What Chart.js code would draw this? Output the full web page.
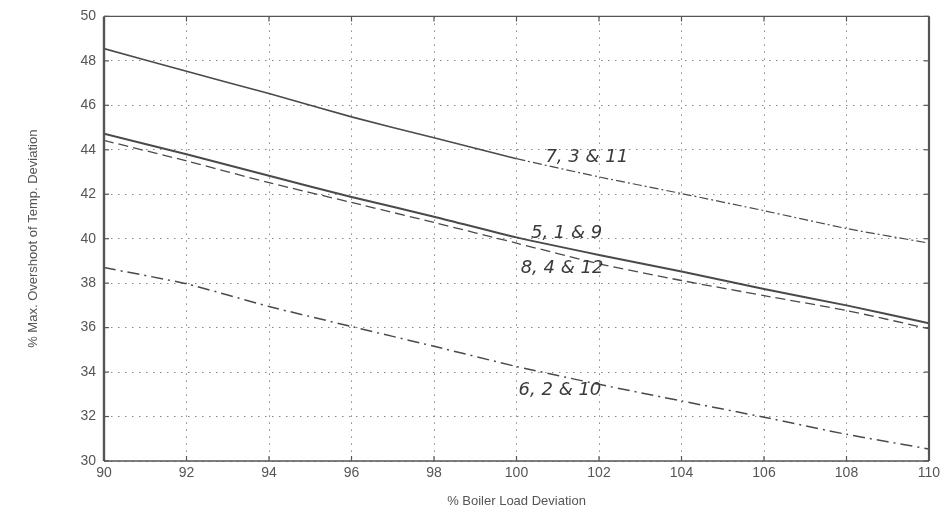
<!DOCTYPE html>
<html>
<head>
<meta charset="utf-8">
<script src="https://cdn.jsdelivr.net/npm/chart.js@4/dist/chart.umd.min.js"></script>
<style>
  html, body { margin: 0; padding: 0; background: #fff; }
  #wrap { width: 948px; height: 528px; position: relative; }
</style>
</head>
<body>
<div id="wrap"><canvas id="c" width="948" height="528"></canvas></div>
<script>
// ---- data ----
const loadDeviation = [90, 92, 94, 96, 98, 100, 102, 104, 106, 108, 110];
const series7_3_11  = [48.55, 47.53, 46.53, 45.48, 44.54, 43.6, 42.78, 42.03, 41.26, 40.46, 39.8];
const series5_1_9   = [44.72, 43.8, 42.83, 41.88, 40.99, 40.06, 39.27, 38.52, 37.74, 37.0, 36.2];
const series8_4_12  = [44.42, 43.5, 42.52, 41.63, 40.73, 39.8, 38.87, 38.12, 37.44, 36.77, 35.95];
const series6_2_10  = [38.7, 37.97, 36.95, 36.05, 35.16, 34.25, 33.45, 32.7, 31.97, 31.2, 30.54];
const xTicks = [90, 92, 94, 96, 98, 100, 102, 104, 106, 108, 110];
const yTicks = [30, 32, 34, 36, 38, 40, 42, 44, 46, 48, 50];
const curveLabels = [
  { text: "7, 3 & 11", x: 100.7, y: 43.45 },
  { text: "5, 1 & 9",  x: 100.35, y: 40.05 },
  { text: "8, 4 & 12", x: 100.1, y: 38.45 },
  { text: "6, 2 & 10", x: 100.05, y: 32.95 }
];

const toXY = (ys) => ys.map((v, i) => ({ x: loadDeviation[i], y: v }));
const INK = '#4a4a4a';

const frame = {
  id: 'frame',
  afterDatasetsDraw(chart) {
    const { ctx, chartArea: a } = chart;
    ctx.save();
    ctx.strokeStyle = '#555';
    ctx.setLineDash([]);
    ctx.lineWidth = 1.3;
    ctx.beginPath(); ctx.moveTo(a.left, a.top); ctx.lineTo(a.right, a.top); ctx.stroke();
    ctx.lineWidth = 2.2;
    ctx.beginPath(); ctx.moveTo(a.right, a.top); ctx.lineTo(a.right, a.bottom); ctx.stroke();
    ctx.lineWidth = 1.6;
    ctx.beginPath(); ctx.moveTo(a.left, a.bottom); ctx.lineTo(a.right, a.bottom); ctx.stroke();
    ctx.lineWidth = 2.4;
    ctx.beginPath(); ctx.moveTo(a.left, a.top); ctx.lineTo(a.left, a.bottom); ctx.stroke();
    // small inward tick marks
    ctx.lineWidth = 1.2;
    const xs = chart.scales.x, ys = chart.scales.y;
    xTicks.forEach(t => {
      const px = xs.getPixelForValue(t);
      ctx.beginPath(); ctx.moveTo(px, a.bottom); ctx.lineTo(px, a.bottom - 5); ctx.stroke();
      ctx.beginPath(); ctx.moveTo(px, a.top); ctx.lineTo(px, a.top + 5); ctx.stroke();
    });
    yTicks.forEach(t => {
      const py = ys.getPixelForValue(t);
      ctx.beginPath(); ctx.moveTo(a.left, py); ctx.lineTo(a.left + 5, py); ctx.stroke();
      ctx.beginPath(); ctx.moveTo(a.right, py); ctx.lineTo(a.right - 5, py); ctx.stroke();
    });
    // handwritten curve labels
    ctx.fillStyle = '#3a3a3a';
    ctx.font = 'italic 18px "DejaVu Sans"';
    ctx.textAlign = 'left';
    ctx.textBaseline = 'alphabetic';
    curveLabels.forEach(l => {
      ctx.fillText(l.text, xs.getPixelForValue(l.x), ys.getPixelForValue(l.y));
    });
    ctx.restore();
  }
};

new Chart(document.getElementById('c'), {
  type: 'line',
  data: {
    datasets: [
      {
        label: '7,3 & 11', data: toXY(series7_3_11),
        borderColor: INK, borderWidth: 1.6, pointRadius: 0, tension: 0.2,
        segment: { borderDash: ctx => ctx.p0.parsed.x >= 100 ? [9, 3, 2, 3] : [] ,
                   borderWidth: ctx => ctx.p0.parsed.x >= 100 ? 1.2 : 1.6 }
      },
      {
        label: '5,1 & 9', data: toXY(series5_1_9),
        borderColor: INK, borderWidth: 2, pointRadius: 0, tension: 0.2
      },
      {
        label: '8,4 & 12', data: toXY(series8_4_12),
        borderColor: INK, borderWidth: 1.3, pointRadius: 0, tension: 0.2,
        borderDash: [10, 5]
      },
      {
        label: '6,2 & 10', data: toXY(series6_2_10),
        borderColor: INK, borderWidth: 1.5, pointRadius: 0, tension: 0.2,
        borderDash: [12, 5, 2, 5]
      }
    ]
  },
  options: {
    responsive: false,
    animation: false,
    layout: { padding: { left: 0, right: 19, top: 15, bottom: 0 } },
    plugins: { legend: { display: false }, tooltip: { enabled: false } },
    scales: {
      x: {
        type: 'linear', min: 90, max: 110,
        afterBuildTicks: s => { s.ticks = xTicks.map(v => ({ value: v })); },
        afterFit: s => { s.height = 67; },
        ticks: { color: '#555', font: { family: 'Liberation Sans', size: 14 }, padding: 4, maxRotation: 0 },
        grid: { color: '#888', lineWidth: 1, drawTicks: false },
        border: { display: false, dash: [1.5, 5.5] },
        title: { display: true, text: '% Boiler Load Deviation', color: '#555',
                 font: { family: 'Liberation Sans', size: 13 }, padding: { top: 0, bottom: 19 } }
      },
      y: {
        type: 'linear', min: 30, max: 50,
        afterBuildTicks: s => { s.ticks = yTicks.map(v => ({ value: v })); },
        afterFit: s => { s.width = 104; },
        ticks: { color: '#555', font: { family: 'Liberation Sans', size: 14 }, padding: 8 },
        grid: { color: '#888', lineWidth: 1, drawTicks: false },
        border: { display: false, dash: [1.5, 5.5] },
        title: { display: true, text: '% Max. Overshoot of Temp. Deviation', color: '#555',
                 font: { family: 'Liberation Sans', size: 13 }, padding: { top: 26, bottom: 0 } }
      }
    }
  },
  plugins: [frame]
});
</script>
</body>
</html>
